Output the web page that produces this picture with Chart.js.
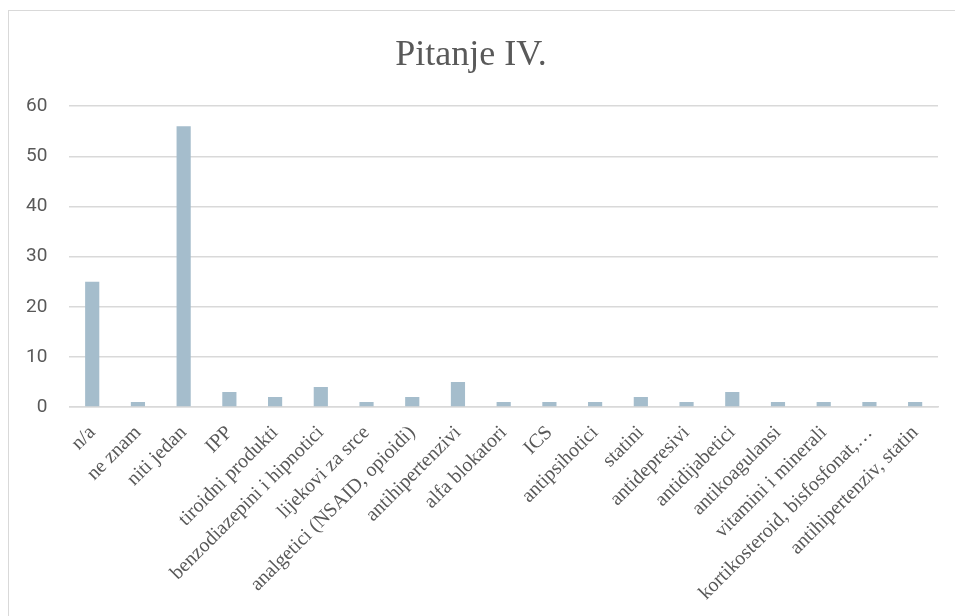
<!DOCTYPE html>
<html>
<head>
<meta charset="utf-8">
<script src="https://cdn.jsdelivr.net/npm/chart.js@4"></script>
<style>
  body { margin: 0; background: #fff; }
  #wrap { position: relative; width: 955px; height: 616px; overflow: hidden; }
  #frame { position: absolute; left: 8px; top: 10px; width: 1000px; height: 700px; border: 1.5px solid #d9d9d9; }
  #box { position: absolute; left: 0; top: 0; width: 955px; height: 616px; }
</style>
</head>
<body>
<div id="wrap">
  <div id="frame"></div>
  <div id="box"><canvas id="grafico"></canvas></div>
</div>
<script>
  const kategorije = [
    "n/a", "ne znam", "niti jedan", "IPP", "tiroidni produkti",
    "benzodiazepini i hipnotici", "lijekovi za srce", "analgetici (NSAID, opioidi)",
    "antihipertenzivi", "alfa blokatori", "ICS", "antipsihotici", "statini",
    "antidepresivi", "antidijabetici", "antikoagulansi", "vitamini i minerali",
    "kortikosteroid, bisfosfonat,…", "antihipertenziv, statin"
  ];
  const odgovori = [25, 1, 56, 3, 2, 4, 1, 2, 5, 1, 1, 1, 2, 1, 3, 1, 1, 1, 1];
  const yTicks = [0, 10, 20, 30, 40, 50, 60];

  const grafico = document.getElementById("grafico").getContext("2d");

  new Chart(grafico, {
    type: "bar",
    data: {
      labels: kategorije,
      datasets: [
        {
          label: "Pitanje IV.",
          data: odgovori,
          backgroundColor: "#a5bdcc",
          barPercentage: 0.31,
          categoryPercentage: 1,
        },
      ],
    },
    options: {
      responsive: true,
      maintainAspectRatio: false,
      animation: false,
      layout: {
        padding: { left: 4, right: 17, top: 0, bottom: 5 },
      },
      scales: {
        x: {
          grid: { display: false },
          border: { color: "#d9d9d9", width: 1.5 },
          ticks: {
            color: "#595959",
            font: { family: "Liberation Serif", size: 20 },
            minRotation: 45,
            maxRotation: 45,
            autoSkip: false,
            padding: 6,
          },
        },
        y: {
          min: 0,
          max: 60,
          afterBuildTicks: (axis) => {
            axis.ticks = yTicks.map((v) => ({ value: v }));
          },
          grid: { color: "#d9d9d9", lineWidth: 1.5, drawTicks: false },
          border: { display: false },
          ticks: {
            color: "#595959",
            font: { family: "Roboto", size: 19 },
            padding: 22,
          },
        },
      },
      plugins: {
        legend: { display: false },
        tooltip: { enabled: false },
        title: {
          display: true,
          text: "Pitanje IV.",
          color: "#595959",
          font: { family: "Liberation Serif", size: 36, weight: "normal" },
          padding: { top: 34, bottom: 29 },
        },
      },
    },
  });
</script>
</body>
</html>
